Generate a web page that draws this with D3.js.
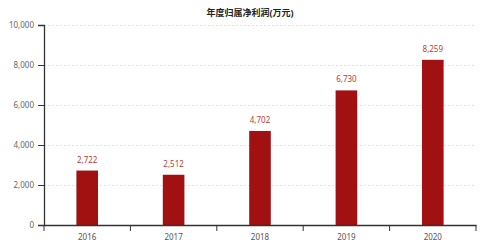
<!DOCTYPE html>
<html>
<head>
<meta charset="utf-8">
<script src="https://cdn.jsdelivr.net/npm/d3@7"></script>
<style>
  body { margin: 0; background: #fff; }
  text { font-family: "Noto Sans", "Noto Sans CJK SC", sans-serif; }
</style>
</head>
<body>
<div id="chart"></div>
<script>
var years = ["2016", "2017", "2018", "2019", "2020"];
var profits = [2722, 2512, 4702, 6730, 8259];
var yTicks = [0, 2000, 4000, 6000, 8000, 10000];
var title = "年度归属净利润(万元)";

function init()
{
  var w = 500;
  var h = 250;
  var left = 44, right = 476, top = 25, bottom = 225;

  var svg = d3.select("#chart")
              .append("svg")
              .attr("width", w)
              .attr("height", h);

  var x = d3.scaleBand()
            .domain(years)
            .range([left, right])
            .paddingInner(0.75)
            .paddingOuter(0.375);

  var y = d3.scaleLinear()
            .domain([0, 10000])
            .range([bottom, top]);

  // grid lines
  svg.selectAll("line.grid")
      .data(yTicks.filter(function(d){ return d > 0; }))
      .enter()
      .append("line")
      .attr("class", "grid")
      .attr("x1", left)
      .attr("x2", right)
      .attr("y1", function(d){ return y(d) + 0.5; })
      .attr("y2", function(d){ return y(d) + 0.5; })
      .attr("stroke", "#e3e3e3")
      .attr("stroke-width", 1)
      .attr("stroke-dasharray", "2,2");

  // bars
  svg.selectAll("rect")
      .data(profits)
      .enter()
      .append("rect")
      .attr("x", function(d, i){ return x(years[i]); })
      .attr("y", function(d){ return y(d); })
      .attr("width", x.bandwidth())
      .attr("height", function(d){ return bottom - y(d); })
      .attr("fill", "#a11111");

  // value labels
  svg.selectAll("text.val")
      .data(profits)
      .enter()
      .append("text")
      .attr("class", "val")
      .text(function(d){ return d3.format(",")(d); })
      .attr("x", function(d, i){ return x(years[i]) + x.bandwidth() / 2; })
      .attr("y", function(d){ return y(d) - 8; })
      .attr("text-anchor", "middle")
      .attr("font-size", "8px")
      .attr("fill", "#c0393b");

  // y axis
  var yAxis = d3.axisLeft(y)
                .tickValues(yTicks)
                .tickFormat(d3.format(","))
                .tickSize(6)
                .tickPadding(4);
  var gy = svg.append("g")
              .attr("transform", "translate(" + left + ",0)")
              .call(yAxis);
  gy.select(".domain").attr("stroke", "#333").attr("stroke-width", 1.3);
  gy.selectAll(".tick line").attr("stroke", "#333");
  gy.selectAll(".tick text").attr("fill", "#666").attr("font-size", "8px")
    .attr("font-family", "Noto Sans");

  // x axis with ticks at band boundaries
  var xAxis = d3.axisBottom(x).tickSize(0).tickPadding(9);
  var gx = svg.append("g")
              .attr("transform", "translate(0," + bottom + ")")
              .call(xAxis);
  gx.select(".domain").attr("stroke", "#333").attr("stroke-width", 1.3);
  gx.selectAll(".tick text").attr("fill", "#555").attr("font-size", "8px")
    .attr("font-family", "Noto Sans");

  var step = x.step();
  var bounds = d3.range(years.length + 1).map(function(i){ return left + i * (right - left) / years.length; });
  svg.selectAll("line.xtick")
      .data(bounds)
      .enter()
      .append("line")
      .attr("class", "xtick")
      .attr("x1", function(d){ return d; })
      .attr("x2", function(d){ return d; })
      .attr("y1", bottom)
      .attr("y2", bottom + 6)
      .attr("stroke", "#333");

  // title
  svg.append("text")
      .text(title)
      .attr("x", 250)
      .attr("y", 16)
      .attr("text-anchor", "middle")
      .attr("font-size", "9px")
      .attr("font-weight", "bold")
      .attr("fill", "#222");
}

window.onload = init;
</script>
</body>
</html>
